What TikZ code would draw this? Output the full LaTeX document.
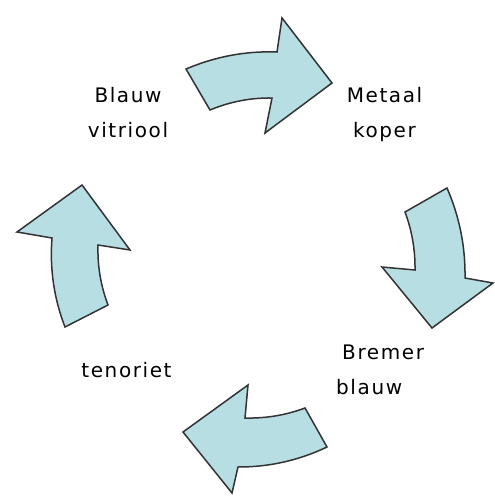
\documentclass[tikz,border=0pt]{standalone}
\usepackage{fontspec}
\setmainfont{DejaVu Sans}[LetterSpace=8]
\definecolor{arrowfill}{HTML}{B7DEE3}
\definecolor{arrowline}{HTML}{333333}
\definecolor{txt}{HTML}{000000}
\begin{document}
\begin{tikzpicture}[x=1pt,y=-1pt,
  cyclearrow/.style={fill=arrowfill,draw=arrowline,line width=1.5pt,line join=miter},
  lbl/.style={text=txt,font=\fontsize{20}{35}\selectfont,inner sep=0pt,align=center}]
\useasboundingbox (0,0) rectangle (495,496);
% top arrow
\draw[cyclearrow] (186,69) .. controls (215.5,56.5) and (245.9,50.8) .. (277,52)
  -- (282,18) -- (332,83) -- (265,133) -- (272,98)
  .. controls (250.5,97.7) and (229.9,101.7) .. (210,110) -- cycle;
% right arrow
\draw[cyclearrow] (447,188) .. controls (459.5,216.7) and (465.5,246.7) .. (465,278)
  -- (493,283) -- (432,328) -- (382,267) -- (415,270)
  .. controls (415.3,250.1) and (412,230.7) .. (405,212) -- cycle;
% bottom arrow
\draw[cyclearrow] (327,447) .. controls (298.9,460.4) and (269.2,467.1) .. (238,467)
  -- (232,493) -- (183,432) -- (248,385) -- (245,418)
  .. controls (265.7,418.5) and (285.7,415.2) .. (305,408) -- cycle;
% left arrow
\draw[cyclearrow] (65,327) .. controls (53.9,298.3) and (49.6,268.6) .. (52,238)
  -- (17,232) -- (82,185) -- (130,250) -- (98,245)
  .. controls (97.4,265.7) and (100.7,285.7) .. (108,305) -- cycle;
% labels
\node[lbl] (vitriool) at (128,113) {Blauw\\vitriool};
\node[lbl] (koper) at (384.5,114) {Metaal\\koper};
\node[lbl,align=left,anchor=west] (bremer) at (336,370.2) {\hspace*{6pt}Bremer\\blauw};
\node[lbl] (tenoriet) at (126.5,370.4) {tenoriet};
\end{tikzpicture}
\end{document}
